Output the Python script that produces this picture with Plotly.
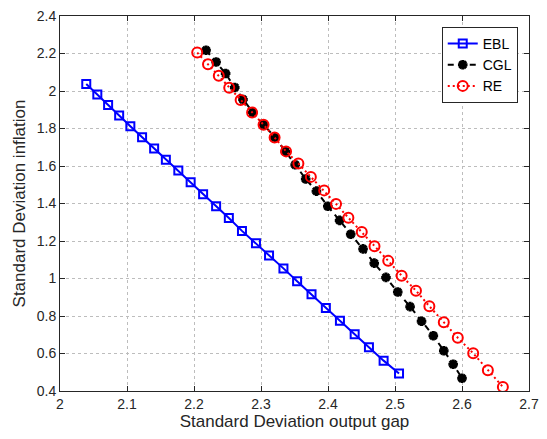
import plotly.graph_objects as go

ebl_x = [2.0392, 2.0557, 2.0718, 2.0883, 2.1050, 2.1225, 2.1405, 2.1580, 2.1766, 2.1950,
         2.2136, 2.2330, 2.2520, 2.2716, 2.2925, 2.3120, 2.3335, 2.3539, 2.3754, 2.3968,
         2.4178, 2.4398, 2.4611, 2.4830, 2.5060]
ebl_y = [2.037, 1.982, 1.926, 1.869, 1.812, 1.754, 1.694, 1.634, 1.576, 1.514,
         1.450, 1.386, 1.323, 1.254, 1.188, 1.123, 1.054, 0.985, 0.916, 0.843,
         0.775, 0.703, 0.633, 0.562, 0.493]

cgl_x = [2.2180, 2.2330, 2.2472, 2.2608, 2.2731, 2.2877, 2.3042, 2.3208, 2.3364, 2.3510,
         2.3667, 2.3827, 2.3997, 2.4173, 2.4339, 2.4523, 2.4690, 2.4865, 2.5041, 2.5225,
         2.5396, 2.5572, 2.5728, 2.5868, 2.6000]
cgl_y = [2.2175, 2.155, 2.093, 2.019, 1.955, 1.885, 1.820, 1.752, 1.678, 1.607,
         1.531, 1.466, 1.385, 1.310, 1.236, 1.158, 1.082, 1.006, 0.928, 0.850,
         0.772, 0.695, 0.615, 0.543, 0.468]

re_x = [2.2048, 2.2209, 2.2370, 2.2526, 2.2696, 2.2867, 2.3038, 2.3203, 2.3374, 2.3558,
        2.3744, 2.3943, 2.4120, 2.4304, 2.4504, 2.4694, 2.4899, 2.5099, 2.5313, 2.5513,
        2.5728, 2.5937, 2.6167, 2.6386, 2.6610]
re_y = [2.205, 2.143, 2.081, 2.0175, 1.952, 1.885, 1.820, 1.752, 1.678, 1.613,
        1.542, 1.470, 1.398, 1.324, 1.248, 1.172, 1.094, 1.015, 0.935, 0.852,
        0.767, 0.684, 0.601, 0.511, 0.422]

x_ticks = [2, 2.1, 2.2, 2.3, 2.4, 2.5, 2.6, 2.7]
x_labels = ["2", "2.1", "2.2", "2.3", "2.4", "2.5", "2.6", "2.7"]
y_ticks = [0.4, 0.6, 0.8, 1, 1.2, 1.4, 1.6, 1.8, 2, 2.2, 2.4]
y_labels = ["0.4", "0.6", "0.8", "1", "1.2", "1.4", "1.6", "1.8", "2", "2.2", "2.4"]

FONT = "Liberation Sans, Arial, Helvetica, sans-serif"
AX = "#262626"

fig = go.Figure()
fig.add_trace(go.Scatter(
    x=ebl_x, y=ebl_y, name="EBL", mode="lines+markers",
    line=dict(color="#0000ff", width=2, dash="solid"),
    marker=dict(symbol="square-open", size=8, color="#0000ff",
                line=dict(color="#0000ff", width=2))))
fig.add_trace(go.Scatter(
    x=cgl_x, y=cgl_y, name="CGL", mode="lines+markers",
    line=dict(color="#000000", width=2, dash="6px,5px"),
    marker=dict(symbol="asterisk-open", size=8, color="#000000",
                line=dict(color="#000000", width=3))))
fig.add_trace(go.Scatter(
    x=re_x, y=re_y, name="RE", mode="lines+markers",
    line=dict(color="#ff0000", width=2, dash="2px,3px"),
    marker=dict(symbol="circle-open", size=10, color="#ff0000",
                line=dict(color="#ff0000", width=2))))

axis_common = dict(
    showline=True, linecolor=AX, linewidth=1, mirror="ticks",
    ticks="inside", ticklen=5, tickcolor=AX, tickwidth=1,
    showgrid=True, gridcolor="#bdbdbd", griddash="dot", gridwidth=1,
    zeroline=False, ticklabeloverflow="allow",
    tickfont=dict(family=FONT, size=14, color=AX),
)

fig.update_layout(
    width=547, height=439,
    margin=dict(l=60, r=8, t=14, b=48),
    paper_bgcolor="white", plot_bgcolor="white",
    font=dict(family=FONT, color=AX),
    xaxis=dict(range=[2, 2.7], tickvals=x_ticks, ticktext=x_labels,
               title=dict(text="Standard Deviation output gap",
                          font=dict(family=FONT, size=17, color=AX), standoff=4),
               **axis_common),
    yaxis=dict(range=[0.4, 2.4], tickvals=y_ticks, ticktext=y_labels,
               title=dict(text="Standard Deviation inflation",
                          font=dict(family=FONT, size=17, color=AX), standoff=6),
               **axis_common),
    legend=dict(x=0.976, y=0.971, xanchor="right", yanchor="top",
                bgcolor="white", bordercolor=AX, borderwidth=1,
                font=dict(family=FONT, size=14, color="#000000"),
                tracegroupgap=0, itemwidth=30),
    showlegend=True,
)

fig.write_html("out.html")
